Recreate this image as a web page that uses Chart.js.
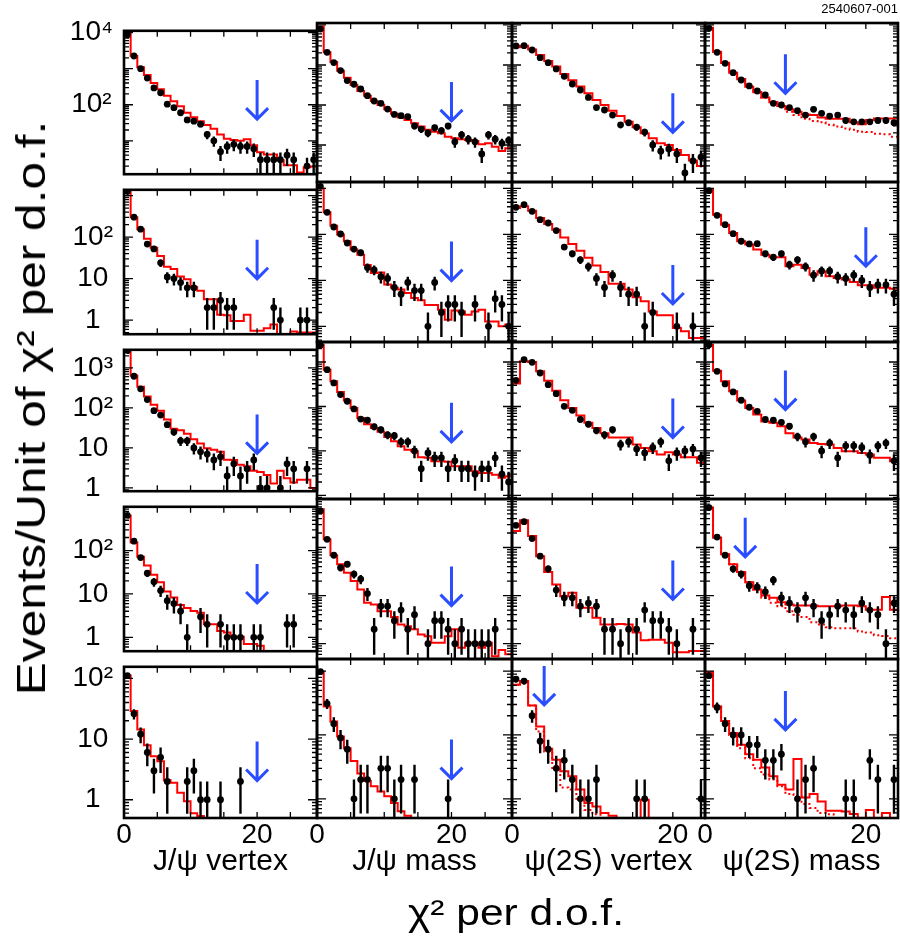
<!DOCTYPE html>
<html>
<head>
<meta charset="utf-8">
<script src="https://cdn.jsdelivr.net/npm/chart.js@4.4.1/dist/chart.umd.min.js"></script>
<style>
  body { margin: 0; background: #fff; }
  #wrap { position: relative; width: 900px; height: 946px; overflow: hidden; font-family: "Liberation Sans", Arial, sans-serif; }
  canvas { position: absolute; }
  .txt { position: absolute; white-space: nowrap; color: #000; z-index: 5; line-height: 1; }
  #tag { right: 2px; top: 2px; font-size: 13px; }
  #ytitle { left: 31px; top: 408px; font-size: 40px; transform: translate(-50%, -50%) rotate(-90deg) scaleX(1.24); }
  #xtitle { left: 516px; top: 913px; font-size: 36px; transform: translate(-50%, -50%) scaleX(1.18); }
</style>
</head>
<body>
<div id="wrap">
  <div class="txt" id="tag">2540607-001</div>
  <div class="txt" id="ytitle">Events/Unit of χ² per d.o.f.</div>
  <div class="txt" id="xtitle">χ² per d.o.f.</div>
</div>
<script>
// columns: J/psi vertex, J/psi mass, psi(2S) vertex, psi(2S) mass ; bins of width 1 starting at 0
const colTitles = ['J/ψ vertex', 'J/ψ mass', 'ψ(2S) vertex', 'ψ(2S) mass'];
const colXMax = [29, 29, 24, 24];
const xTickLabels = [0, 20];

// y range and labelled ticks per row
const rowMin = [1.19, 0.457, 0.83, 0.48, 0.5];
const rowMax = [11200, 1380, 2820, 1020, 155];
const rowTickLabels = [[10000, 100], [100, 10, 1], [1000, 100, 10, 1], [100, 10, 1], [100, 10, 1]];

// cut arrows: x position and value at arrow tip
const cutX = [[20, 20, 20, 10], [20, 20, 20, 20], [20, 20, 20, 10], [20, 20, 20, 5], [20, 20, 4, 10]];
const cutTip = [[40, 40, 20.7, 196], [9.9, 9.9, 3.07, 20.3], [7.3, 16, 20, 85], [6.2, 6.2, 8.3, 64], [2.07, 2.07, 29.6, 12]];

// row 1
const r1c1Data = [8600, 2240, 1000, 550, 293, 215, 104, 83, 60, 38, 35, 29, 15, 10, 5, 7, 8, 7, 7, 6, 3, 3, 3, 3, 4, 3, 0, 2, 3];
const r1c1Fit = [9100, 2240, 1100, 670, 400, 270, 178, 126, 91, 60, 45, 35, 27.5, 21.5, 15, 11.4, 10.6, 10, 11, 7.5, 4.8, 4.2, 4.2, 2.9, 2.1, 2.1, 1.33, 1.85, 1.96];
const r1c2Data = [7900, 2070, 1150, 725, 408, 330, 251, 171, 126, 110, 79, 58, 54, 51, 30, 25, 20, 27, 23, 30, 12, 18, 14, 12, 6, 18, 14, 11, 13];
const r1c2Fit = [9100, 2070, 1180, 720, 480, 316, 224, 171, 126, 100, 78, 60, 49, 42, 35, 29, 24, 21.5, 19.6, 16, 14.7, 14, 13.3, 12.6, 10.4, 11, 9.1, 7.1, 8.3];
const r1c3Data = [2990, 3040, 2370, 1525, 1145, 795, 521, 335, 237, 155, 86, 75, 56, 32, 36, 28, 21, 10, 7, 8, 6, 2, 4, 5];
const r1c3Fit = [2770, 3040, 2450, 1780, 1260, 910, 596, 414, 288, 196, 133, 100, 72, 53, 38, 27.7, 19.6, 14.7, 11, 10, 7.5, 5.6, 4.1, 3.0];
const r1c4Data = [8250, 2070, 1100, 643, 422, 299, 224, 178, 110, 100, 86, 72, 56, 78, 62, 53, 56, 41, 38, 38, 38, 41, 41, 36];
const r1c4Fit = [8500, 2150, 1140, 643, 438, 287, 207, 155, 117, 94, 78, 68, 58, 56, 49, 45, 45, 45, 37, 33, 42, 46, 46, 46];
const r1c4Dot = [8500, 2150, 1140, 643, 438, 287, 207, 155, 117, 94, 68, 56, 45, 40, 37, 32, 29, 26, 24, 21.5, 21, 19, 18.5, 16];

// row 2
const r2c1Data = [1250, 302, 155, 68, 52, 24, 11, 10, 8, 6, 6, 0, 2, 2, 3, 2, 2, 0, 0, 0, 0, 0, 2, 1, 0, 0, 1, 1, 0];
const r2c1Fit = [1300, 302, 155, 91, 55, 35, 19.3, 17.1, 11.3, 9.6, 6.3, 5.1, 3.2, 3.2, 1.34, 1.3, 0.95, 0.95, 1.34, 0.55, 0.55, 0.64, 0.78, 0, 0, 0.53, 0.5, 0.5, 0.5];
const r2c2Data = [1110, 302, 145, 102, 65, 48, 40, 19, 17, 12, 11, 7, 5, 9, 6, 6, 1, 9, 2, 3, 3, 2, 0, 3, 0, 1, 4, 3, 1];
const r2c2Fit = [1000, 302, 155, 99, 71, 47, 36, 21.5, 14.5, 14.8, 8.1, 6.9, 6.3, 5.3, 4.15, 3.7, 2.9, 2.9, 2.3, 1.4, 2.2, 2.1, 1.8, 2.1, 2.3, 1.28, 1.28, 1.0, 1.1];
const r2c3Data = [388, 444, 318, 209, 177, 121, 53, 38, 28, 20, 11, 7, 13, 7, 5, 5, 1, 2, 0, 0, 1, 0, 1, 0];
const r2c3Fit = [376, 410, 329, 227, 169, 127, 86, 62, 44, 31, 21, 15.3, 8.4, 8.4, 6.3, 4.3, 3.5, 2.1, 1.74, 1.74, 0.92, 0.78, 0.56, 0.56];
const r2c4Data = [895, 260, 163, 104, 71, 62, 63, 38, 32, 38, 22, 28, 20, 13, 16, 16, 12, 11, 13, 10, 7, 8, 8, 5];
const r2c4Fit = [940, 269, 163, 107, 71, 60, 47, 36, 32, 32, 20.3, 22, 18.6, 13.3, 15.8, 12.3, 11.3, 10.4, 9.2, 7.8, 7.8, 6.9, 6.9, 6.6];

// row 3
const r3c1Data = [2680, 617, 299, 161, 85, 66, 38, 25, 15, 15, 10, 8, 7, 5, 6, 2, 4, 2, 3, 5, 1, 1, 0, 1, 4, 3, 0, 3, 0];
const r3c1Fit = [2900, 640, 338, 191, 120, 85, 51, 30, 27.7, 22.5, 16.5, 12.8, 9.8, 9.0, 8.0, 5.1, 5.0, 3.8, 3.5, 2.7, 2.5, 2.1, 1.3, 2.7, 1.75, 1.36, 1.6, 1.6, 1.0];
const r3c2Data = [2370, 673, 338, 185, 131, 88, 52, 49, 35, 30, 23, 22, 16, 16, 10, 4, 9, 7, 7, 4, 6, 4, 4, 3, 4, 4, 7, 3, 2];
const r3c2Fit = [2450, 673, 368, 212, 136, 93, 55, 40, 33, 27, 20.7, 16.5, 12.8, 10.7, 9.8, 7.2, 7.0, 5.9, 5.9, 5.7, 4.5, 4.5, 4.5, 3.5, 3.2, 3.2, 2.9, 2.5, 2.7];
const r3c3Data = [388, 1130, 984, 566, 310, 194, 101, 82, 51, 40, 29, 23, 30, 14, 16, 11, 9, 12, 16, 6, 9, 10, 11, 7];
const r3c3Fit = [327, 1037, 1000, 618, 381, 227, 138, 93, 63, 43, 33, 25, 20, 20, 20, 13.9, 11.7, 9.8, 8.3, 9.3, 8.3, 7.2, 7.2, 5.4];
const r3c4Data = [2450, 618, 321, 212, 138, 96, 78, 51, 49, 44, 36, 21, 16, 21, 10, 15, 7, 13, 13, 12, 8, 13, 15, 6];
const r3c4Fit = [2450, 640, 368, 219, 136, 93, 66, 46, 43, 36, 25, 20, 18, 15.1, 14.4, 13.9, 11.7, 9.8, 9.8, 9.0, 8.3, 7.0, 7.0, 5.9];

// row 4
const r4c1Data = [644, 165, 69, 30, 19, 12, 7, 6, 4, 1, 0, 3, 2, 0, 2, 1, 1, 1, 0, 1, 1, 0, 0, 0, 2, 2, 0, 0, 0];
const r4c1Fit = [644, 153, 72, 45, 27.6, 18.5, 11.4, 8.3, 5.6, 4.75, 4.05, 3.7, 2.0, 2.0, 1.4, 1.3, 1.04, 1.04, 0.7, 0.7, 0.64, 0, 0, 0, 0, 0, 0, 0, 0];
const r4c2Data = [575, 148, 69, 38, 45, 28, 22, 11, 2, 6, 6, 3, 5, 2, 4, 0, 1, 3, 3, 2, 1, 2, 1, 1, 1, 1, 2, 0, 0];
const r4c2Fit = [624, 148, 69, 45, 30, 20, 13.4, 7.1, 6.5, 4.75, 4.75, 3.6, 2.5, 2.3, 2.0, 1.55, 1.43, 1.04, 1.04, 1.43, 2.0, 0.82, 1.04, 1.04, 0.82, 1.04, 0.55, 0.74, 0.6];
const r4c3Data = [289, 345, 153, 66, 36, 13, 9, 9, 6, 7, 6, 2, 2, 1, 2, 2, 5, 3, 3, 2, 1, 0, 2, 0];
const r4c3Fit = [220, 367, 173, 66, 31, 17, 9.7, 11.5, 5.6, 5.6, 3.45, 2.5, 2.5, 2.55, 2.5, 1.7, 1.18, 1.2, 1.2, 1.05, 0.66, 0.66, 0.7, 0.7];
const r4c4Data = [675, 165, 69, 36, 28, 16, 15, 12, 21, 9, 7, 5, 9, 6, 3, 4, 6, 5, 4, 7, 5, 4, 1, 7];
const r4c4Fit = [680, 160, 72, 45, 31, 19, 13.4, 10, 9.0, 7.3, 6.5, 6.2, 6.2, 6.2, 6.0, 6.0, 6.0, 6.2, 6.2, 6.0, 5.1, 5.1, 9.3, 5.1];
const r4c4Dot = [680, 160, 72, 45, 31, 19, 13.4, 9, 7.1, 6, 4.75, 4, 3.6, 2.8, 2.5, 2.2, 2.1, 2.1, 2.1, 1.8, 1.7, 1.5, 1.45, 1.3];

// row 5
const r5c1Data = [111, 26, 12, 6, 3, 5, 2, 0, 0, 2, 3, 1, 1, 0, 1, 0, 0, 2, 0, 0, 0, 0, 0, 0, 0, 0, 0, 0, 0];
const r5c1Fit = [111, 29, 14.4, 7.9, 5.2, 4.3, 2.1, 1.9, 1.3, 0.94, 0.6, 0.54, 0, 0, 0, 0, 0, 0, 0, 0, 0, 0, 0, 0, 0, 0, 0, 0, 0];
const r5c2Data = [98, 31, 15, 9, 6, 1, 2, 2, 0, 3, 3, 1, 2, 0, 2, 0, 0, 0, 0, 1, 0, 0, 0, 0, 0, 0, 0, 0, 0];
const r5c2Fit = [98, 28, 16.3, 9.5, 6.2, 3.9, 2.5, 1.9, 1.57, 1.3, 1.1, 0.86, 0.64, 0.54, 0, 0, 0, 0, 0, 0, 0, 0, 0, 0, 0, 0, 0, 0, 0];
const r5c3Data = [75, 70, 20, 8, 6, 3, 4, 2, 1, 1, 2, 0, 0, 0, 0, 1, 1, 0, 0, 0, 0, 0, 0, 1];
const r5c3Fit = [61, 70, 29, 13.6, 6.1, 4.1, 2.7, 2.25, 1.4, 0.86, 0.76, 0.6, 0.54, 0, 0, 0, 0.97, 0, 0, 0, 0, 0, 0, 0];
const r5c3Dot = [61, 70, 29, 11.3, 5.5, 2.9, 1.5, 1.4, 1.0, 0.67, 0.57, 0, 0, 0, 0, 0, 0, 0, 0, 0, 0, 0, 0, 0];
const r5c4Data = [85, 27, 15, 10, 10, 7, 7, 4, 4, 5, 0, 1, 2, 3, 0, 0, 0, 1, 1, 0, 4, 2, 0, 2];
const r5c4Fit = [96, 28, 16.6, 10.7, 7.0, 5.0, 4.1, 3.1, 2.25, 1.66, 1.4, 4.2, 1.05, 1.19, 0.91, 0.65, 0.65, 0.63, 0.58, 0, 0.67, 0, 0.6, 0];
const r5c4Dot = [96, 28, 16.6, 10, 6.2, 4.3, 3.0, 2.4, 2.0, 1.57, 1.19, 1.1, 0.83, 0.72, 0.6, 0.57, 0, 0, 0, 0, 0, 0, 0, 0];

const dataRows = [
  [r1c1Data, r1c2Data, r1c3Data, r1c4Data],
  [r2c1Data, r2c2Data, r2c3Data, r2c4Data],
  [r3c1Data, r3c2Data, r3c3Data, r3c4Data],
  [r4c1Data, r4c2Data, r4c3Data, r4c4Data],
  [r5c1Data, r5c2Data, r5c3Data, r5c4Data]
];
const fitRows = [
  [r1c1Fit, r1c2Fit, r1c3Fit, r1c4Fit],
  [r2c1Fit, r2c2Fit, r2c3Fit, r2c4Fit],
  [r3c1Fit, r3c2Fit, r3c3Fit, r3c4Fit],
  [r4c1Fit, r4c2Fit, r4c3Fit, r4c4Fit],
  [r5c1Fit, r5c2Fit, r5c3Fit, r5c4Fit]
];
const dotRows = [
  [null, null, null, r1c4Dot],
  [null, null, null, null],
  [null, null, null, null],
  [null, null, null, r4c4Dot],
  [null, null, r5c3Dot, r5c4Dot]
];

// page layout (pixels)
const colEdges = [124, 317, 512, 705, 898];
const rowEdges = [23, 182, 342, 499, 659, 818];
const PAD = 20;
const RED = '#ff0000';
const BLUE = '#2a4dff';

Chart.defaults.font.family = "'Liberation Sans', Arial, sans-serif";
Chart.defaults.color = '#000';

const supDigit = {2: '²', 3: '³', 4: '⁴'};
function powLabel(v) {
  const e = Math.round(Math.log10(v));
  if (e === 0) return '1';
  if (e === 1) return '10';
  return '10' + supDigit[e];
}

// histogram drawn from bin edges, empty bins pushed below the axis
function stepPoints(vals, floor) {
  const pts = vals.map((v, i) => ({x: i, y: v > 0 ? v : floor}));
  pts.push({x: vals.length, y: vals[vals.length - 1] > 0 ? vals[vals.length - 1] : floor});
  return pts;
}
function markerPoints(vals) {
  return vals.map((v, i) => ({x: i + 0.5, y: v > 0 ? v : null}));
}
function errorSegments(vals, floor) {
  const pts = [];
  vals.forEach((v, i) => {
    if (v <= 0) return;
    const s = Math.sqrt(v);
    pts.push({x: i + 0.5, y: Math.max(v - s, floor)}, {x: i + 0.5, y: v + s}, {x: i + 0.5, y: null});
  });
  return pts;
}

const arrowPlugin = {
  id: 'cutArrow',
  afterDatasetsDraw(chart, args, opts) {
    const {ctx, scales: {x, y}} = chart;
    const px = x.getPixelForValue(opts.x);
    const py = y.getPixelForValue(opts.tip);
    ctx.save();
    ctx.strokeStyle = BLUE;
    ctx.lineWidth = 3;
    ctx.beginPath();
    ctx.moveTo(px, py - 39);
    ctx.lineTo(px, py);
    ctx.moveTo(px - 11, py - 11);
    ctx.lineTo(px, py);
    ctx.lineTo(px + 11, py - 11);
    ctx.stroke();
    ctx.restore();
  }
};

const framePlugin = {
  id: 'frame',
  afterDraw(chart) {
    const {ctx, chartArea: a, scales: {x, y}} = chart;
    ctx.save();
    ctx.strokeStyle = '#000';
    ctx.lineWidth = 1.3;
    ctx.beginPath();
    y.ticks.forEach(t => {
      const py = y.getPixelForValue(t.value);
      if (py <= a.top + 1 || py >= a.bottom - 1) return;
      const len = t.major ? 9 : 5;
      ctx.moveTo(a.left, py); ctx.lineTo(a.left + len, py);
      ctx.moveTo(a.right, py); ctx.lineTo(a.right - len, py);
    });
    x.ticks.forEach(t => {
      const px = x.getPixelForValue(t.value);
      if (px <= a.left + 1 || px >= a.right - 1) return;
      ctx.moveTo(px, a.bottom); ctx.lineTo(px, a.bottom - 6);
      ctx.moveTo(px, a.top); ctx.lineTo(px, a.top + 6);
    });
    ctx.stroke();
    ctx.lineWidth = 2.6;
    ctx.strokeRect(a.left, a.top, a.right - a.left, a.bottom - a.top);
    ctx.restore();
  }
};

const wrap = document.getElementById('wrap');

function makePanel(r, c) {
  const left = colEdges[c], right = colEdges[c + 1];
  const top = rowEdges[r], bottom = rowEdges[r + 1];
  const yAxisW = c === 0 ? left - PAD : 0;
  const xAxisH = r === 4 ? 62 : 0;
  const w = (right - left) + 2 * PAD + yAxisW;
  const h = (bottom - top) + 2 * PAD + xAxisH;
  const cv = document.createElement('canvas');
  cv.width = w; cv.height = h;
  cv.style.left = (left - PAD - yAxisW) + 'px';
  cv.style.top = (top - PAD) + 'px';
  cv.style.width = w + 'px';
  cv.style.height = h + 'px';
  wrap.appendChild(cv);

  const floor = rowMin[r] / 10;
  const vals = dataRows[r][c];
  const labels = rowTickLabels[r];
  const datasets = [
    {data: markerPoints(vals), showLine: false, pointRadius: 3.4, pointBorderWidth: 0,
     pointBackgroundColor: '#000', borderColor: '#000'},
    {data: errorSegments(vals, floor), borderColor: '#000', borderWidth: 2.4, pointRadius: 0, spanGaps: false},
    {data: stepPoints(fitRows[r][c], floor), borderColor: RED, borderWidth: 2, pointRadius: 0, stepped: true}
  ];
  if (dotRows[r][c]) {
    datasets.push({data: stepPoints(dotRows[r][c], floor), borderColor: RED, borderWidth: 2,
      borderDash: [2, 3], pointRadius: 0, stepped: true});
  }

  new Chart(cv, {
    type: 'line',
    data: {datasets},
    plugins: [arrowPlugin, framePlugin],
    options: {
      responsive: false,
      animation: false,
      devicePixelRatio: 1,
      events: [],
      layout: {padding: PAD},
      plugins: {
        legend: {display: false},
        tooltip: {enabled: false},
        cutArrow: {x: cutX[r][c], tip: cutTip[r][c]}
      },
      scales: {
        x: {
          type: 'linear', min: 0, max: colXMax[c], bounds: 'data', position: 'bottom',
          afterFit: s => { s.height = xAxisH; },
          grid: {display: false, drawTicks: false},
          border: {display: false},
          ticks: {
            display: r === 4, stepSize: 5, includeBounds: false, autoSkip: false, maxRotation: 0,
            padding: 0, font: {size: 28},
            callback: v => xTickLabels.includes(v) ? String(v) : ''
          },
          title: {display: r === 4, text: colTitles[c], font: {size: 30}, padding: 0}
        },
        y: {
          type: 'logarithmic', min: rowMin[r], max: rowMax[r], bounds: 'data', position: 'left',
          afterFit: s => { s.width = yAxisW; },
          afterBuildTicks: s => {
            const ticks = [];
            for (let e = Math.floor(Math.log10(s.min)); e <= Math.ceil(Math.log10(s.max)); e++) {
              for (let m = 1; m < 10; m++) {
                const v = m * Math.pow(10, e);
                if (v >= s.min && v <= s.max) ticks.push({value: v, major: m === 1});
              }
            }
            s.ticks = ticks;
          },
          grid: {display: false, drawTicks: false},
          border: {display: false},
          ticks: {
            display: c === 0, autoSkip: false, crossAlign: 'center', padding: 11,
            font: {size: 28},
            callback: v => labels.includes(v) ? powLabel(v) : ''
          }
        }
      }
    }
  });
}

for (let r = 0; r < 5; r++) {
  for (let c = 0; c < 4; c++) makePanel(r, c);
}
</script>
</body>
</html>
